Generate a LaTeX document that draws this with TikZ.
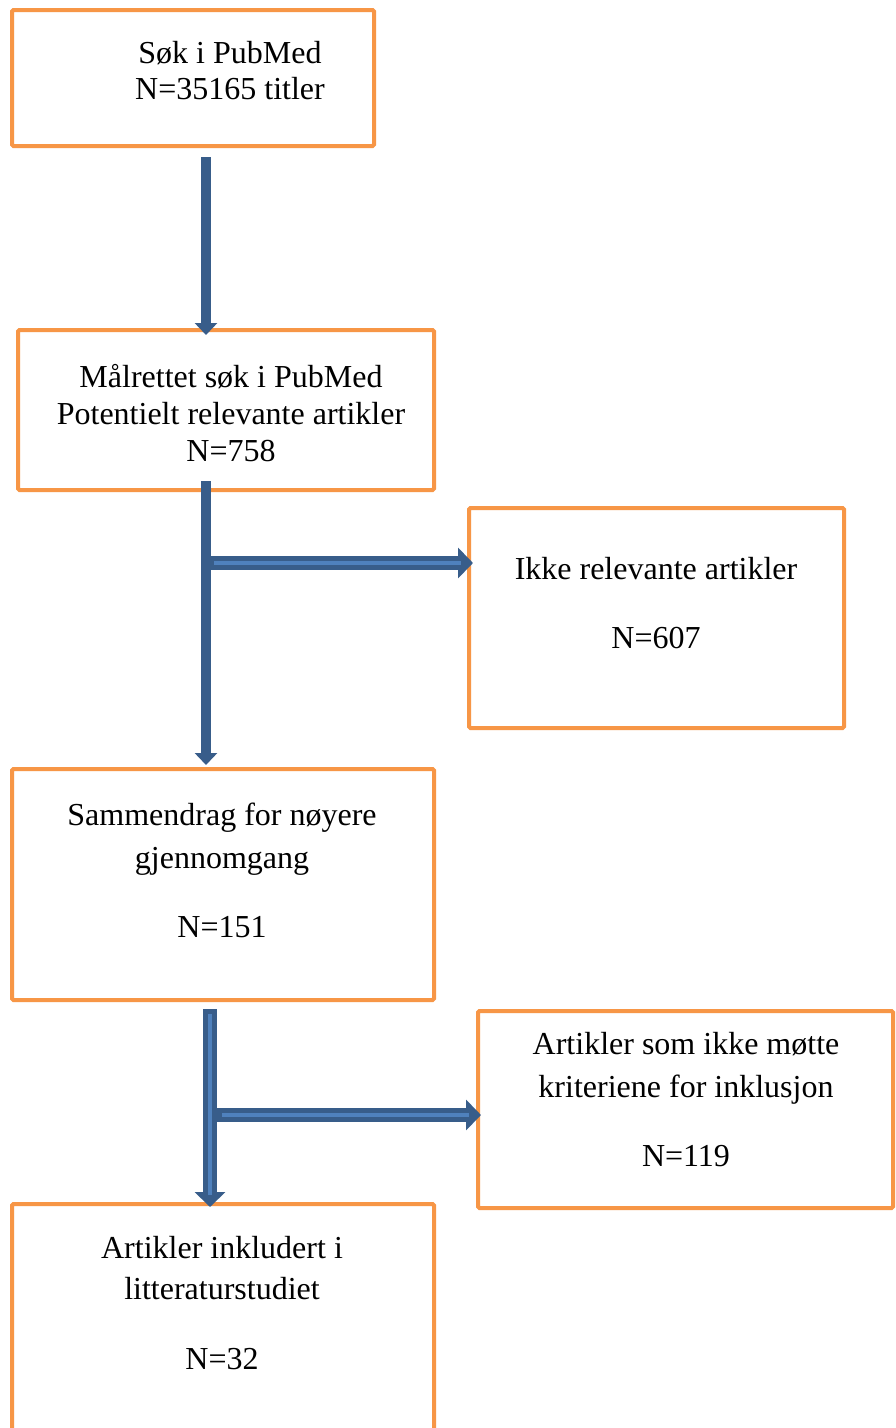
\documentclass[tikz,border=0pt]{standalone}
\usepackage{fontspec}
\setmainfont{Liberation Serif}
\usetikzlibrary{arrows.meta}
\definecolor{boxorange}{HTML}{F79646}
\definecolor{arrdark}{HTML}{385D8A}
\definecolor{arrlight}{HTML}{4F81BD}
\tikzset{
  box/.style={draw=boxorange, line width=4pt, rounded corners=1.5pt},
  txt/.style={anchor=base, inner sep=0pt, font=\fontsize{32}{37}\selectfont},
  solidarrow/.style={arrdark, line width=10pt, -{Triangle[width=22pt,length=12pt]}},
  blockarrow/.style={arrdark, line width=14pt, -{Triangle[width=30pt,length=15pt]}},
  stripe/.style={arrlight, line width=4pt},
}
\begin{document}
\begin{tikzpicture}[x=1pt,y=-1pt]
\useasboundingbox (0,0) rectangle (896,1428);
\fill[white] (0,0) rectangle (896,1428);
% boxes
\draw[box] (12,10) rectangle (374,146);
\draw[box] (18,330) rectangle (434,490);
\draw[box] (469,508) rectangle (844,728);
\draw[box] (12,769) rectangle (434,1000);
\draw[box] (478,1011) rectangle (893,1208);
\draw[box] (12,1204) rectangle (434,1440);
% texts
\node[txt] (t1a) at (230,63) {Søk i PubMed};
\node[txt] (t1b) at (230,99) {N=35165 titler};
\node[txt] (t2a) at (231,387) {Målrettet søk i PubMed};
\node[txt] (t2b) at (231,424) {Potentielt relevante artikler};
\node[txt] (t2c) at (231,461) {N=758};
\node[txt] (t3a) at (656,579) {Ikke relevante artikler};
\node[txt] (t3b) at (656,648) {N=607};
\node[txt] (t4a) at (222,825) {Sammendrag for nøyere};
\node[txt] (t4b) at (222,868) {gjennomgang};
\node[txt] (t4c) at (222,937) {N=151};
\node[txt] (t5a) at (686,1054) {Artikler som ikke møtte};
\node[txt] (t5b) at (686,1097) {kriteriene for inklusjon};
\node[txt] (t5c) at (686,1166) {N=119};
\node[txt] (t6a) at (222,1258) {Artikler inkludert i};
\node[txt] (t6b) at (222,1299) {litteraturstudiet};
\node[txt] (t6c) at (222,1369) {N=32};
% arrow 1
\coordinate (a1s) at (206,157);
\coordinate (a1e) at (206,335);
\draw[solidarrow] (a1s) -- (a1e);
% arrow 2
\coordinate (a2s) at (206,481);
\coordinate (a2e) at (206,765);
\coordinate (a2b) at (211,563);
\coordinate (a2h) at (473,563);
\draw[blockarrow] (a2b) -- (a2h);
\draw[stripe] (a2b) ++(3,0) -- ([xshift=-12pt]a2h);
\draw[solidarrow] (a2s) -- (a2e);
% arrow 3
\coordinate (a3s) at (210,1009);
\coordinate (a3e) at (210,1207);
\coordinate (a3b) at (217,1115);
\coordinate (a3h) at (481,1115);
\draw[blockarrow] (a3b) -- (a3h);
\draw[stripe] (a3b) ++(5,0) -- ([xshift=-12pt]a3h);
\draw[blockarrow] (a3s) -- (a3e);
\draw[stripe] (a3s) ++(0,5) -- ([yshift=12pt]a3e);
\end{tikzpicture}
\end{document}
